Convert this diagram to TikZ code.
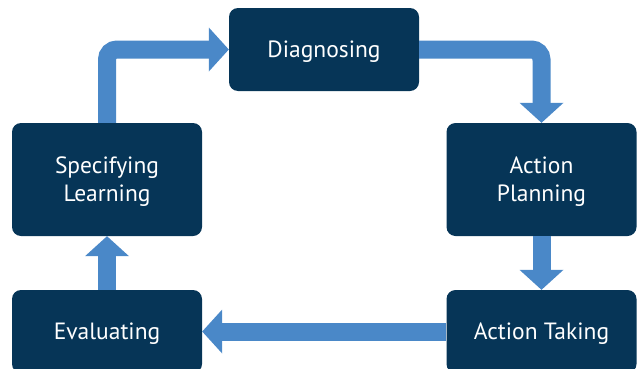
\documentclass[tikz,border=0pt]{standalone}
\usepackage{fontspec}
\setmainfont{PT Sans}
\usepackage{tikz}
\usetikzlibrary{arrows.meta}
\definecolor{boxblue}{HTML}{063557}
\definecolor{flowblue}{HTML}{4A88C8}

\begin{document}
\begin{tikzpicture}[x=1pt,y=1pt,
        box/.style={draw=none, fill=boxblue, rounded corners=9pt, text=white, align=center, minimum width=190pt, inner sep=0pt, text depth=0pt, font=\fontsize{23.5}{28}\selectfont},
        flow/.style={draw=flowblue, line width=18pt, rounded corners=10pt, -{Triangle[width=44pt,length=20pt,line width=0pt]}}]
            \useasboundingbox (0,0) rectangle (639,368);

            \node (diag) at (324,318.5) [box, minimum height=83pt]{Diagnosing};
            \node (plan) at (541.5,188.5) [box, minimum height=113pt]{Action\\Planning};
            \node (take) at (541.5,36.5) [box, minimum height=83pt]{Action Taking};
            \node (eval) at (107,36.5) [box, minimum height=83pt]{Evaluating};
            \node (spec) at (107,188.5) [box, minimum height=113pt]{Specifying\\Learning};

            \draw[flow] (spec) |- (diag);
            \draw[flow] (diag) -| (plan);
            \draw[flow] (plan) -- (take);
            \draw[flow] (take) -- (eval);
            \draw[flow] (eval) -- (spec);
\end{tikzpicture}
\end{document}
